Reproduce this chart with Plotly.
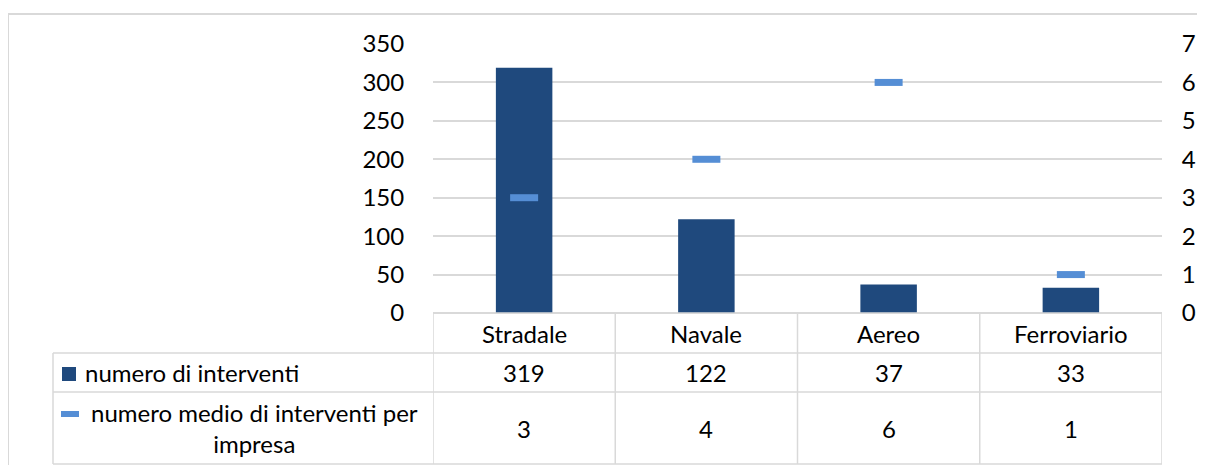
import plotly.graph_objects as go

# ---- data ----
categories = ["Stradale", "Navale", "Aereo", "Ferroviario"]
interventi = [319, 122, 37, 33]
medio_per_impresa = [3, 4, 6, 1]
series_names = ["numero di interventi", "numero medio di interventi per<br>impresa"]
left_ticks = [0, 50, 100, 150, 200, 250, 300, 350]
right_ticks = [0, 1, 2, 3, 4, 5, 6, 7]

# page offset (body margin) and figure size chosen so the page never overflows
OX, OY = 8, 8
W, H = 1189, 473 - 2 * OY
BAR = "#1F497D"
DASH = "#558ED5"
GRID = "#D9D9D9"
FONT = dict(family="Lato", size=24, color="#000000")


def px(x):
    return (x - OX) / W


def py(y):
    return 1 - (y - OY) / H


fig = go.Figure()
fig.add_trace(go.Bar(x=categories, y=interventi, marker=dict(color=BAR, line=dict(width=0)),
                     width=0.31, name="numero di interventi", yaxis="y"))
fig.add_trace(go.Scatter(x=categories, y=medio_per_impresa, mode="markers", yaxis="y2",
                         marker=dict(symbol="line-ew", size=20, color=DASH,
                                     line=dict(color=DASH, width=7)),
                         name="numero medio"))

# plot-area geometry (page pixels)
X0, X1 = 433, 1162
Y_TOP, Y_ZERO = 44, 313
ROW1, ROW2, ROW3 = 353, 392, 464
TABLE_LEFT = 53

fig.update_layout(
    template="none",
    width=W, height=H, autosize=False,
    margin=dict(l=0, r=0, t=0, b=0, pad=0),
    paper_bgcolor="white", plot_bgcolor="white",
    showlegend=False, font=FONT,
    xaxis=dict(domain=[px(X0), px(X1)], range=[-0.5, 3.5], showticklabels=False,
               showgrid=False, zeroline=False, showline=False, type="category",
               ticks="", automargin=False),
    yaxis=dict(domain=[py(Y_ZERO), py(Y_TOP)], range=[0, 350], tickvals=left_ticks,
               showgrid=True, gridcolor=GRID, gridwidth=1.5, zeroline=True,
               zerolinecolor=GRID, zerolinewidth=1.5, showline=False, automargin=False,
               ticks="outside", ticklen=23, tickcolor="rgba(0,0,0,0)", tickfont=FONT),
    yaxis2=dict(overlaying="y", side="right", range=[0, 7], tickvals=right_ticks,
                showgrid=False, zeroline=False, showline=False, automargin=False,
                ticks="outside", ticklen=14, tickcolor="rgba(0,0,0,0)", tickfont=FONT),
)

shapes = []
line = dict(color=GRID, width=1.5)
# outer border
shapes.append(dict(type="rect", xref="paper", yref="paper", x0=px(8), x1=px(1215),
                   y0=py(480), y1=py(14), line=dict(color=GRID, width=2), layer="below"))
# horizontal table lines
shapes.append(dict(type="line", xref="x", yref="paper", x0=-0.5, x1=3.5,
                   y0=py(Y_ZERO), y1=py(Y_ZERO), line=line))
for yy in (ROW1, ROW2, ROW3):
    shapes.append(dict(type="line", xref="paper", yref="paper", x0=px(TABLE_LEFT), x1=px(X1),
                       y0=py(yy), y1=py(yy), line=line))
# vertical table lines
shapes.append(dict(type="line", xref="paper", yref="paper", x0=px(TABLE_LEFT), x1=px(TABLE_LEFT),
                   y0=py(ROW1), y1=py(ROW3), line=line))
for i in range(len(categories) + 1):
    xv = i - 0.5
    shapes.append(dict(type="line", xref="x", yref="paper", x0=xv, x1=xv,
                       y0=py(Y_ZERO), y1=py(ROW3), line=line))
# legend keys
shapes.append(dict(type="rect", xref="paper", yref="paper", x0=px(62), x1=px(76),
                   y0=py(381), y1=py(367), fillcolor=BAR, line=dict(width=0)))
shapes.append(dict(type="line", xref="paper", yref="paper", x0=px(61), x1=px(79),
                   y0=py(414), y1=py(414), line=dict(color=DASH, width=6)))
fig.update_layout(shapes=shapes)

ann = []
for c, v1, v2 in zip(categories, interventi, medio_per_impresa):
    ann.append(dict(x=c, xref="x", y=py((Y_ZERO + ROW1) / 2), yref="paper", text=c,
                    showarrow=False, font=FONT, xanchor="center", yanchor="middle"))
    ann.append(dict(x=c, xref="x", y=py((ROW1 + ROW2) / 2), yref="paper", text=str(v1),
                    showarrow=False, font=FONT, xanchor="center", yanchor="middle"))
    ann.append(dict(x=c, xref="x", y=py((ROW2 + ROW3) / 2), yref="paper", text=str(v2),
                    showarrow=False, font=FONT, xanchor="center", yanchor="middle"))
ann.append(dict(x=px(83), xref="paper", y=py((ROW1 + ROW2) / 2), yref="paper",
                text=series_names[0], showarrow=False, font=FONT,
                xanchor="left", yanchor="middle"))
ann.append(dict(x=px(254), xref="paper", y=py((ROW2 + ROW3) / 2), yref="paper",
                text=series_names[1], showarrow=False, font=FONT, align="center",
                xanchor="center", yanchor="middle"))
fig.update_layout(annotations=ann)

fig.write_html("out.html")
